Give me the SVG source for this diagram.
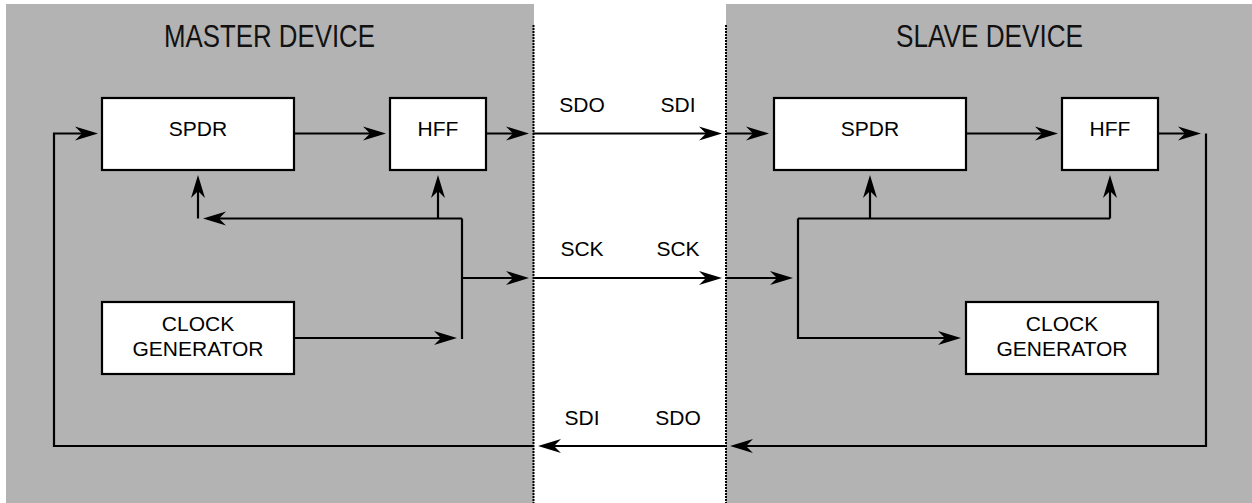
<svg xmlns="http://www.w3.org/2000/svg" width="1252" height="503" viewBox="0 0 1252 503">
<style>
.panel{fill:#b3b3b3;stroke:none}
.sep{stroke:#000;stroke-width:2;stroke-dasharray:2 1;fill:none}
.box{fill:#fff;stroke:#000;stroke-width:2.2}
.lbl{font-family:"Liberation Sans",Arial,sans-serif;font-size:21px;fill:#000;text-anchor:middle}
.ttl{font-family:"Liberation Sans",Arial,sans-serif;font-size:31px;fill:#111;text-anchor:middle}
.c{fill:none;stroke:#000;stroke-width:2.2}
.a{marker-end:url(#ah)}
</style>
<defs>
<marker id="ah" markerUnits="userSpaceOnUse" markerWidth="26" markerHeight="16" viewBox="-16 -8 26 16" refX="0" refY="0" orient="auto" overflow="visible">
<path d="M8,0 L-15,-7 L-8,0 L-15,7 Z" fill="#000"/>
</marker>
</defs>
<g id="panels">
<rect class="panel" x="6" y="4" width="528" height="499"/>
<rect class="panel" x="726" y="4" width="526" height="499"/>
<line class="sep" x1="533.5" y1="25" x2="533.5" y2="503"/>
<line class="sep" x1="726" y1="25" x2="726" y2="503"/>
<text class="ttl" x="269.5" y="47" textLength="211" lengthAdjust="spacingAndGlyphs">MASTER DEVICE</text>
<text class="ttl" x="989.5" y="47" textLength="187" lengthAdjust="spacingAndGlyphs">SLAVE DEVICE</text>
</g>
<g id="m-spdr"><rect class="box" x="102" y="98" width="192" height="72"/><text class="lbl" x="198" y="136">SPDR</text></g>
<g id="m-hff"><rect class="box" x="390" y="98" width="96" height="72"/><text class="lbl" x="438" y="136">HFF</text></g>
<g id="m-clk"><rect class="box" x="102" y="302" width="192" height="72"/><text class="lbl" x="198" y="331">CLOCK</text><text class="lbl" x="198" y="356">GENERATOR</text></g>
<g id="s-spdr"><rect class="box" x="774" y="98" width="192" height="72"/><text class="lbl" x="870" y="136">SPDR</text></g>
<g id="s-hff"><rect class="box" x="1062" y="98" width="96" height="72"/><text class="lbl" x="1110" y="136">HFF</text></g>
<g id="s-clk"><rect class="box" x="966" y="302" width="192" height="72"/><text class="lbl" x="1062" y="331">CLOCK</text><text class="lbl" x="1062" y="356">GENERATOR</text></g>
<g id="connectors">
<path class="c a" d="M533,446 H54 V133.5 H90"/>
<path class="c a" d="M294,133.5 H378"/>
<path class="c a" d="M486,133.5 H521"/>
<path class="c a" d="M294,338 H449"/>
<path class="c" d="M462,218.5 V339"/>
<path class="c a" d="M462,218.5 H211"/>
<path class="c a" d="M462,278 H521"/>
<path class="c a" d="M198,218.5 V183"/>
<path class="c a" d="M438,218.5 V183"/>
<path class="c a" d="M533,133.5 H714"/>
<path class="c a" d="M533,278 H714"/>
<path class="c a" d="M726,446 H546"/>
<path class="c a" d="M726,133.5 H761"/>
<path class="c a" d="M966,133.5 H1050"/>
<path class="c a" d="M1158,133.5 H1193"/>
<path class="c a" d="M1206,133.5 V446 H738"/>
<path class="c a" d="M726,278 H785"/>
<path class="c a" d="M798,218.5 V338 H953"/>
<path class="c" d="M798,218.5 H1110"/>
<path class="c a" d="M870,218.5 V183"/>
<path class="c a" d="M1110,218.5 V183"/>
</g>
<g id="signal-labels">
<text class="lbl" x="582" y="112">SDO</text>
<text class="lbl" x="678" y="112">SDI</text>
<text class="lbl" x="582" y="256">SCK</text>
<text class="lbl" x="678" y="256">SCK</text>
<text class="lbl" x="582" y="425">SDI</text>
<text class="lbl" x="678" y="425">SDO</text>
</g>
</svg>
